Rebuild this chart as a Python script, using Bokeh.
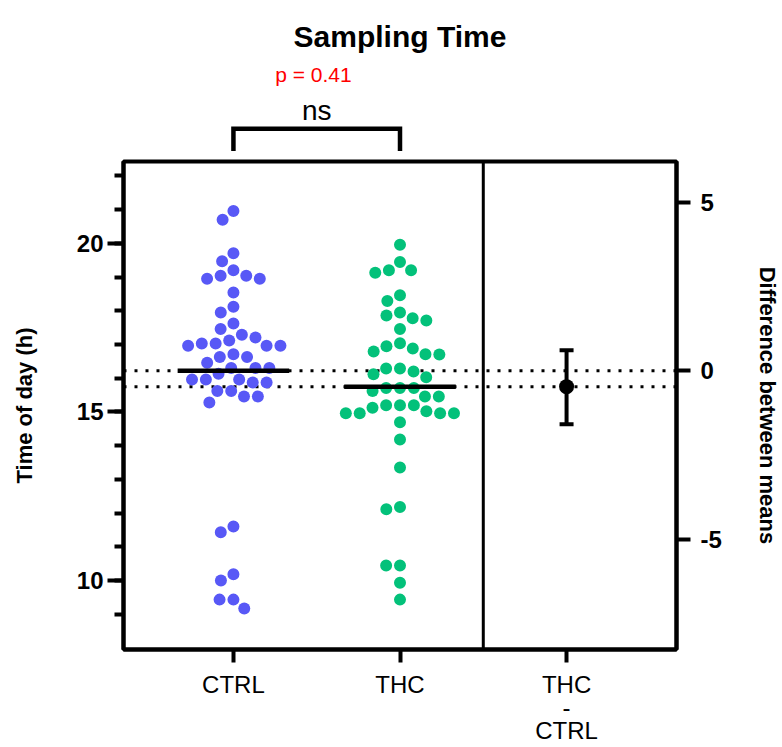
import math
from bokeh.plotting import figure
from bokeh.models import LinearAxis, Range1d, FixedTicker
from bokeh.layouts import column
from bokeh.core.properties import value
from bokeh.embed import file_html
from bokeh.resources import INLINE

# ---------------- data ----------------
title_text = "Sampling Time"
y_title = "Time of day (h)"
y2_title = "Difference between means"
groups = ["CTRL", "THC"]
diff_name = "THC\n-\nCTRL"
ctrl = [20.96, 20.70, 19.71, 19.47, 19.20, 19.04, 18.95, 18.95, 19.04, 18.54,
        18.12, 17.95, 17.62, 17.46, 17.12, 17.29, 17.21, 16.96, 16.96, 17.03,
        17.03, 16.96, 16.63, 16.63, 16.71, 16.46, 16.30, 16.30, 16.30, 16.13,
        15.96, 15.96, 15.96, 15.87, 15.87, 15.62, 15.62, 15.46, 15.46, 15.28,
        11.60, 11.43, 10.18, 10.00, 9.43, 9.43, 9.17]
thc = [19.96, 19.45, 19.13, 19.20, 19.20, 18.46, 18.29, 17.78, 17.86, 17.95,
       17.71, 17.46, 17.04, 16.95, 16.79, 16.88, 16.71, 16.70, 16.29, 16.29,
       16.20, 16.12, 16.03, 15.71, 15.71, 15.71, 15.62, 15.46, 15.46, 15.20,
       15.20, 15.20, 14.96, 15.12, 14.96, 15.02, 14.96, 14.96, 14.69, 14.18,
       13.35, 12.11, 12.18, 10.44, 10.44, 9.93, 9.43]
means = [16.22, 15.75]
diff_mean = means[1] - means[0]
diff_ci = [-1.59, 0.61]
p_text = "p = 0.41"
sig_text = "ns"
left_ticks = [10, 15, 20]
left_minor = list(range(9, 23))
right_ticks = [-5, 0, 5]
right_tick_labels = {-5: "-5", 0: "0", 5: "5"}

# ---------------- layout ----------------
W = 782
TOP_H = 158                     # header strip (title, p-value, bracket)
MAIN_H = 747 - TOP_H
BL, BR, BB, BT = 123, 101, 98, 3
FW = W - BL - BR
FH = MAIN_H - BT - BB           # 488 px boxed area
Y0, Y1 = 7.95, 22.43
X0, X1 = 0.34, 3.66
ppx = FW / (X1 - X0)
ppy = FH / (Y1 - Y0)
FONT_NAME = "Liberation Sans"
FONT = value(FONT_NAME)
BLUE = "#5858F6"
GREEN = "#03C17A"


def swarm(vals, center, diam):
    order = sorted(range(len(vals)), key=lambda i: -vals[i])
    placed = []
    xs = [0.0] * len(vals)
    for i in order:
        y = vals[i] * ppy
        cands = [0.0]
        for px, py in placed:
            dy = y - py
            if abs(dy) < diam:
                dx = math.sqrt(diam * diam - dy * dy)
                cands += [px - dx, px + dx]
        best = 0.0
        for c in sorted(cands, key=lambda c: (round(abs(c), 6), c)):
            if all((c - px) ** 2 + (y - py) ** 2 >= diam * diam - 1e-6 for px, py in placed):
                best = c
                break
        placed.append((best, y))
        xs[i] = center + best / ppx
    return xs


xr = Range1d(X0, X1)

# ---------------- header strip ----------------
top = figure(width=W, height=TOP_H, x_range=xr,
             y_range=Range1d(Y1 + BT / ppy, Y1 + (BT + TOP_H) / ppy),
             output_backend="svg", toolbar_location=None,
             x_axis_location=None, y_axis_location=None,
             min_border_left=BL, min_border_right=BR, min_border_top=0, min_border_bottom=0)
top.grid.visible = False
top.outline_line_color = None
top.background_fill_color = "white"
top.border_fill_color = "white"
top.line([1, 1, 2, 2], [22.74, 23.40, 23.40, 22.74], line_width=4.5, line_color="black",
         line_join="miter")
top.text(x=[1.5], y=[23.94], text=[sig_text], text_font=FONT, text_font_size="28px",
         text_align="center", text_baseline="alphabetic", text_color="black")
top.text(x=[1.48], y=[25.01], text=[p_text], text_font=FONT, text_font_size="21px",
         text_align="center", text_baseline="alphabetic", text_color="#FF0000")
top.text(x=[(X0 + X1) / 2], y=[26.14], text=[title_text], text_font=FONT,
         text_font_size="30px", text_font_style="bold", text_align="center",
         text_baseline="alphabetic", text_color="black")

# ---------------- main plot ----------------
p = figure(width=W, height=MAIN_H, x_range=xr, y_range=Range1d(Y0, Y1),
           output_backend="svg", toolbar_location=None,
           x_axis_location=None, y_axis_location=None,
           min_border_left=BL, min_border_right=BR, min_border_top=BT, min_border_bottom=BB)
p.grid.visible = False
p.outline_line_color = "black"
p.outline_line_width = 4
p.outline_line_alpha = 1.0
p.background_fill_color = "white"
p.border_fill_color = "white"

p.extra_y_ranges = {"diff": Range1d(Y0 - means[0], Y1 - means[0])}

left = LinearAxis(ticker=FixedTicker(ticks=left_ticks, minor_ticks=left_minor),
                  axis_label=y_title)
right = LinearAxis(y_range_name="diff", ticker=FixedTicker(ticks=right_ticks),
                   major_label_overrides=right_tick_labels, axis_label=y2_title)
bottom = LinearAxis(ticker=FixedTicker(ticks=[1, 2, 3]),
                    major_label_overrides={1: groups[0], 2: groups[1], 3: diff_name})
for ax in (left, right, bottom):
    ax.axis_line_width = 4
    ax.axis_line_color = "black"
    ax.major_tick_line_width = 4
    ax.minor_tick_line_width = 4
    ax.major_tick_in = 0
    ax.minor_tick_in = 0
    ax.major_label_text_font = FONT_NAME
    ax.major_label_text_font_size = "24px"
    ax.major_label_text_color = "black"
    ax.axis_label_text_font = FONT_NAME
    ax.axis_label_text_font_size = "22px"
    ax.axis_label_text_font_style = "bold"
    ax.axis_label_text_color = "black"
left.major_tick_out = 16
left.minor_tick_out = 9
left.major_label_standoff = 4
left.major_label_text_font_style = "bold"
left.axis_label_standoff = 37
right.major_tick_out = 14
right.major_label_standoff = 10
right.major_label_text_font_style = "bold"
right.axis_label_standoff = 30
bottom.major_tick_out = 13
bottom.major_label_standoff = 8
bottom.major_label_text_line_height = 0.87
p.add_layout(left, "left")
p.add_layout(right, "right")
p.add_layout(bottom, "below")

# separator between the two panels
p.segment(x0=[2.5], y0=[Y0], x1=[2.5], y1=[Y1], line_width=3, line_color="black")

# dotted mean lines
p.segment(x0=[X0, X0], y0=means, x1=[X1, X1], y1=means, line_width=3,
          line_color="black", line_dash="3 8")

# swarms
p.scatter(swarm(ctrl, 1, 14), ctrl, size=12, fill_color=BLUE, line_color=None)
p.scatter(swarm(thc, 2, 14), thc, size=12, fill_color=GREEN, line_color=None)

# mean bars
hw = 0.335
p.segment(x0=[1 - hw, 2 - hw], y0=means, x1=[1 + hw, 2 + hw], y1=means,
          line_width=4.5, line_color="black")

# difference with CI
cw = 0.042
p.segment(x0=[3, 3 - cw, 3 - cw], y0=[diff_ci[0], diff_ci[0], diff_ci[1]],
          x1=[3, 3 + cw, 3 + cw], y1=[diff_ci[1], diff_ci[0], diff_ci[1]],
          line_width=4, line_color="black", y_range_name="diff")
p.scatter([3], [diff_mean], size=15, fill_color="black", line_color=None, y_range_name="diff")

open("out.html", "w").write(file_html(column(top, p, spacing=0), INLINE))
